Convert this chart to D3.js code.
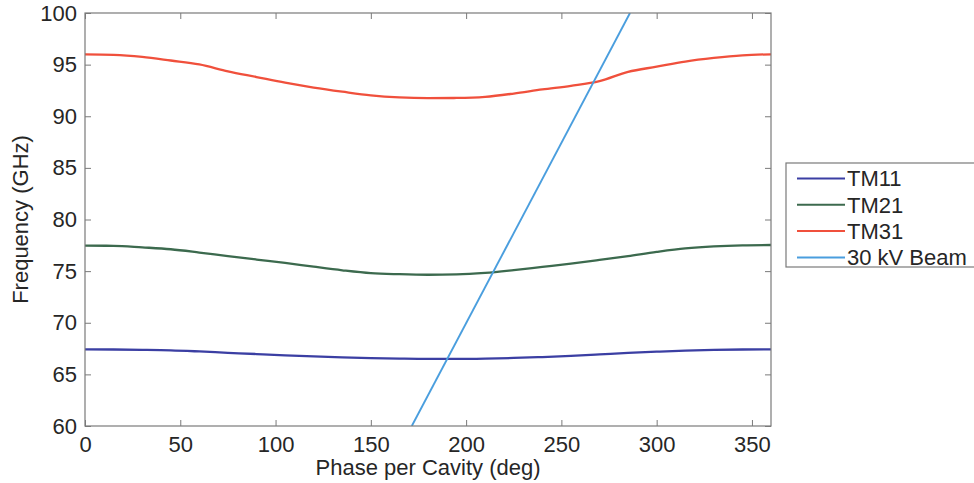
<!DOCTYPE html>
<html>
<head>
<meta charset="utf-8">
<script src="https://cdn.jsdelivr.net/npm/d3@7"></script>
<style>
  html, body { margin: 0; padding: 0; background: #fff; }
  svg { display: block; font-family: "Liberation Sans", Arial, Helvetica, sans-serif; }
</style>
</head>
<body>
<svg id="chart" width="974" height="483"></svg>
<script>
// Dispersion curves of the cavity modes (phase in degrees, frequency in GHz)
const phase = [0, 15, 30, 45, 60, 75, 90, 105, 120, 135, 150, 165, 180,
               195, 210, 225, 240, 255, 270, 285, 300, 315, 330, 345, 360];
const tm11 = [67.43, 67.41, 67.38, 67.33, 67.22, 67.09, 66.97, 66.85, 66.74, 66.65, 66.58, 66.53, 66.50,
              66.50, 66.53, 66.59, 66.68, 66.79, 66.93, 67.08, 67.20, 67.30, 67.37, 67.41, 67.43];
const tm21 = [77.47, 77.45, 77.30, 77.12, 76.80, 76.45, 76.12, 75.80, 75.43, 75.08, 74.80, 74.70, 74.65,
              74.68, 74.83, 75.10, 75.41, 75.72, 76.08, 76.46, 76.86, 77.20, 77.40, 77.50, 77.53];
const tm31 = [96.00, 95.95, 95.75, 95.40, 95.02, 94.35, 93.80, 93.25, 92.78, 92.38, 92.02, 91.82, 91.75,
              91.77, 91.88, 92.20, 92.60, 92.95, 93.40, 94.30, 94.80, 95.30, 95.65, 95.90, 96.00];
// Beam line
const beamPhase = [171.5, 286];
const beamFreq = [60, 100];

const seriesNames = ["TM11", "TM21", "TM31", "30 kV Beam"];
const seriesColors = ["#3b3fa3", "#3c6a4e", "#f0503c", "#4a9ede"];
const xTicks = [0, 50, 100, 150, 200, 250, 300, 350];
const yTicks = [60, 65, 70, 75, 80, 85, 90, 95, 100];

const svg = d3.select("#chart");
const m = { left: 85, top: 13, right: 771, bottom: 426 };

const x = d3.scaleLinear().domain([0, 360]).range([m.left, m.right]);
const y = d3.scaleLinear().domain([60, 100]).range([m.bottom, m.top]);

const axisColor = "#7a7a7a";
const textColor = "#262626";
const fontSize = "22px";

svg.append("clipPath").attr("id", "plot")
  .append("rect").attr("x", m.left).attr("y", m.top)
  .attr("width", m.right - m.left).attr("height", m.bottom - m.top);

// Data lines
const series = [
  phase.map((p, i) => [p, tm11[i]]),
  phase.map((p, i) => [p, tm21[i]]),
  phase.map((p, i) => [p, tm31[i]]),
  beamPhase.map((p, i) => [p, beamFreq[i]])
];
const line = d3.line().x(d => x(d[0])).y(d => y(d[1])).curve(d3.curveMonotoneX);
const plot = svg.append("g").attr("clip-path", "url(#plot)");
series.forEach((s, i) => {
  plot.append("path").datum(s)
    .attr("fill", "none")
    .attr("stroke", seriesColors[i])
    .attr("stroke-width", i === 3 ? 1.9 : 2.3)
    .attr("d", line);
});

// Axes (ticks point inward, mirrored on top and right)
function styleAxis(g) {
  g.select(".domain").remove();
  g.selectAll(".tick line").attr("stroke", axisColor).attr("stroke-width", 1);
}
const axBottom = svg.append("g").attr("transform", `translate(0,${m.bottom})`)
  .call(d3.axisBottom(x).tickValues(xTicks).tickSizeInner(-6).tickSizeOuter(0).tickPadding(10));
styleAxis(axBottom);
axBottom.selectAll(".tick text").attr("fill", textColor).style("font-size", fontSize);

const axTop = svg.append("g").attr("transform", `translate(0,${m.top})`)
  .call(d3.axisTop(x).tickValues(xTicks).tickSizeInner(-6).tickSizeOuter(0).tickFormat(""));
styleAxis(axTop);

const axLeft = svg.append("g").attr("transform", `translate(${m.left},0)`)
  .call(d3.axisLeft(y).tickValues(yTicks).tickSizeInner(-6).tickSizeOuter(0).tickPadding(8));
styleAxis(axLeft);
axLeft.selectAll(".tick text").attr("fill", textColor).style("font-size", fontSize);

const axRight = svg.append("g").attr("transform", `translate(${m.right},0)`)
  .call(d3.axisRight(y).tickValues(yTicks).tickSizeInner(-6).tickSizeOuter(0).tickFormat(""));
styleAxis(axRight);

// Box
svg.append("rect")
  .attr("x", m.left).attr("y", m.top)
  .attr("width", m.right - m.left).attr("height", m.bottom - m.top)
  .attr("fill", "none").attr("stroke", axisColor).attr("stroke-width", 1.2);

// Axis labels
svg.append("text")
  .attr("x", (m.left + m.right) / 2).attr("y", 475)
  .attr("text-anchor", "middle").attr("fill", textColor).style("font-size", fontSize)
  .text("Phase per Cavity (deg)");

svg.append("text")
  .attr("transform", `translate(28,${(m.top + m.bottom) / 2}) rotate(-90)`)
  .attr("text-anchor", "middle").attr("fill", textColor).style("font-size", fontSize)
  .text("Frequency (GHz)");

// Legend
const lg = svg.append("g");
lg.append("rect")
  .attr("x", 786).attr("y", 163).attr("width", 200).attr("height", 104)
  .attr("fill", "#fff").attr("stroke", axisColor).attr("stroke-width", 1.2);
seriesNames.forEach((name, i) => {
  const yy = 178.5 + i * 26.3;
  lg.append("line")
    .attr("x1", 797).attr("x2", 845).attr("y1", yy).attr("y2", yy)
    .attr("stroke", seriesColors[i]).attr("stroke-width", 2);
  lg.append("text")
    .attr("x", 847).attr("y", yy).attr("dy", "0.36em")
    .attr("fill", textColor).style("font-size", fontSize)
    .text(name);
});
</script>
</body>
</html>
